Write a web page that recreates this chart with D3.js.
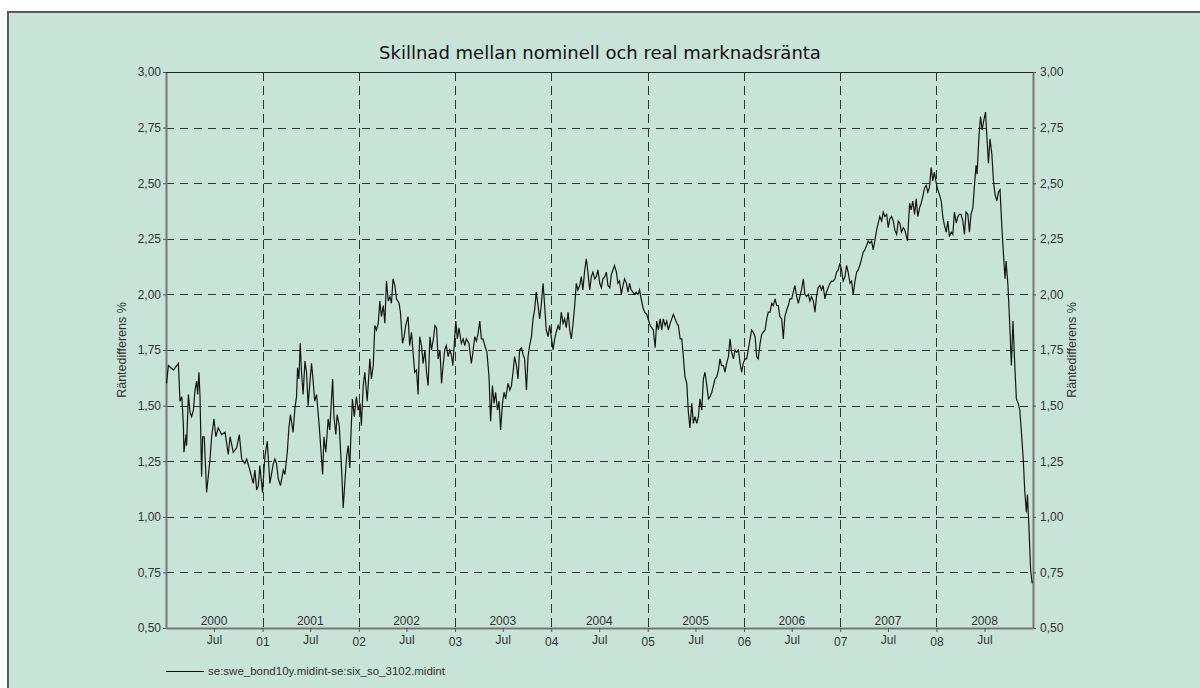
<!DOCTYPE html>
<html>
<head>
<meta charset="utf-8">
<script src="https://cdn.jsdelivr.net/npm/d3@7"></script>
<style>
  body { margin: 0; background: #fff; }
  svg { display: block; font-family: "Liberation Sans", Arial, sans-serif; }
</style>
</head>
<body>
<script>
// series: se:swe_bond10y.midint - se:six_so_3102.midint
var dates = [
  '2000-01-03','2000-01-10','2000-01-29','2000-02-17','2000-02-23','2000-03-01','2000-03-07','2000-03-09','2000-03-17','2000-03-19',
  '2000-03-26','2000-04-01','2000-04-07','2000-04-14','2000-04-20','2000-04-26','2000-04-30','2000-05-05','2000-05-09','2000-05-15',
  '2000-05-19','2000-05-25','2000-06-03','2000-06-16','2000-06-22','2000-07-01','2000-07-08','2000-07-17','2000-07-30','2000-08-12',
  '2000-08-24','2000-08-31','2000-09-12','2000-09-25','2000-10-05','2000-10-14','2000-10-26','2000-11-02','2000-11-14','2000-11-27',
  '2000-12-03','2000-12-10','2000-12-16','2000-12-22',
  '2001-01-01','2001-01-10','2001-01-19','2001-01-29','2001-02-11','2001-02-17','2001-02-23','2001-03-02','2001-03-10','2001-03-21',
  '2001-03-27','2001-04-05','2001-04-11','2001-04-17','2001-04-27','2001-05-04','2001-05-10','2001-05-14','2001-05-19','2001-05-24',
  '2001-05-29','2001-06-04','2001-06-11','2001-06-17','2001-06-23','2001-06-30','2001-07-06','2001-07-12','2001-07-18','2001-07-25',
  '2001-08-04','2001-08-17','2001-08-22','2001-08-29','2001-09-07','2001-09-13','2001-09-24','2001-09-29','2001-10-06','2001-10-11',
  '2001-10-19','2001-10-28','2001-11-03','2001-11-09','2001-11-16','2001-11-22','2001-11-28','2001-12-02','2001-12-08','2001-12-15',
  '2001-12-23','2001-12-30',
  '2002-01-06','2002-01-11','2002-01-18','2002-01-24','2002-02-02','2002-02-12','2002-02-18','2002-02-25','2002-03-03','2002-03-09',
  '2002-03-16','2002-03-22','2002-03-28','2002-04-04','2002-04-10','2002-04-16','2002-04-23','2002-04-29','2002-05-05','2002-05-11',
  '2002-05-18','2002-05-24','2002-06-03','2002-06-08','2002-06-16','2002-06-22','2002-06-28','2002-07-07','2002-07-13','2002-07-20',
  '2002-07-26','2002-08-01','2002-08-08','2002-08-14','2002-08-20','2002-08-27','2002-09-02','2002-09-09','2002-09-15','2002-09-21',
  '2002-09-28','2002-10-04','2002-10-11','2002-10-17','2002-10-23','2002-10-29','2002-11-05','2002-11-11','2002-11-17','2002-11-23',
  '2002-11-29','2002-12-06','2002-12-12','2002-12-18','2002-12-24',
  '2003-01-04','2003-01-10','2003-01-16','2003-01-25','2003-02-01','2003-02-07','2003-02-13','2003-02-23','2003-03-04','2003-03-10',
  '2003-03-17','2003-03-23','2003-03-29','2003-04-05','2003-04-11','2003-04-17','2003-04-24','2003-05-02','2003-05-10','2003-05-16',
  '2003-05-23','2003-05-29','2003-06-04','2003-06-11','2003-06-17','2003-06-23','2003-06-30','2003-07-06','2003-07-12','2003-07-21',
  '2003-07-28','2003-08-03','2003-08-09','2003-08-15','2003-08-22','2003-08-28','2003-09-03','2003-09-10','2003-09-16','2003-09-22',
  '2003-09-29','2003-10-05','2003-10-11','2003-10-18','2003-10-24','2003-10-30','2003-11-05','2003-11-12','2003-11-18','2003-11-24',
  '2003-12-01','2003-12-07','2003-12-13','2003-12-20','2003-12-26',
  '2004-01-01','2004-01-08','2004-01-14','2004-01-20','2004-01-27','2004-02-02','2004-02-08','2004-02-15','2004-02-21','2004-02-27',
  '2004-03-05','2004-03-11','2004-03-17','2004-03-23','2004-03-30','2004-04-05','2004-04-11','2004-04-18','2004-04-24','2004-04-30',
  '2004-05-07','2004-05-13','2004-05-19','2004-05-26','2004-06-01','2004-06-07','2004-06-14','2004-06-20','2004-06-26','2004-07-03',
  '2004-07-09','2004-07-15','2004-07-22','2004-07-28','2004-08-03','2004-08-10','2004-08-16','2004-08-22','2004-08-28','2004-09-04',
  '2004-09-10','2004-09-16','2004-09-23','2004-09-29','2004-10-05','2004-10-12','2004-10-18','2004-10-24','2004-10-30','2004-11-06',
  '2004-11-12','2004-11-18','2004-11-25','2004-12-01','2004-12-07','2004-12-14','2004-12-20','2004-12-28',
  '2005-01-10','2005-01-22','2005-01-29','2005-02-04','2005-02-10','2005-02-17','2005-02-23','2005-03-01','2005-03-08','2005-03-14',
  '2005-03-20','2005-03-27','2005-04-02','2005-04-08','2005-04-15','2005-04-21','2005-04-27','2005-05-04','2005-05-10','2005-05-16',
  '2005-05-22','2005-05-29','2005-06-04','2005-06-10','2005-06-17','2005-06-23','2005-06-29','2005-07-06','2005-07-12','2005-07-18',
  '2005-07-25','2005-07-31','2005-08-06','2005-08-13','2005-08-19','2005-08-25','2005-09-01','2005-09-07','2005-09-13','2005-09-20',
  '2005-09-26','2005-10-02','2005-10-08','2005-10-15','2005-10-21','2005-10-27','2005-11-03','2005-11-09','2005-11-15','2005-11-22',
  '2005-11-28','2005-12-04','2005-12-11','2005-12-17','2005-12-23','2005-12-29',
  '2006-01-05','2006-01-11','2006-01-17','2006-01-24','2006-01-30','2006-02-05','2006-02-12','2006-02-18','2006-02-24','2006-03-03',
  '2006-03-09','2006-03-15','2006-03-22','2006-03-28','2006-04-03','2006-04-10','2006-04-16','2006-04-22','2006-04-29','2006-05-05',
  '2006-05-11','2006-05-17','2006-05-24','2006-05-30','2006-06-05','2006-06-12','2006-06-18','2006-06-24','2006-07-01','2006-07-07',
  '2006-07-13','2006-07-20','2006-07-26','2006-08-01','2006-08-07','2006-08-14','2006-08-20','2006-08-26','2006-09-02','2006-09-08',
  '2006-09-14','2006-09-21','2006-09-27','2006-10-03','2006-10-09','2006-10-16','2006-10-22','2006-10-28','2006-11-04','2006-11-10',
  '2006-11-16','2006-11-23','2006-11-29','2006-12-05','2006-12-12','2006-12-18','2006-12-24','2006-12-31',
  '2007-01-06','2007-01-12','2007-01-19','2007-01-25','2007-01-31','2007-02-07','2007-02-13','2007-02-19','2007-02-26','2007-03-04',
  '2007-03-10','2007-03-16','2007-03-23','2007-03-29','2007-04-04','2007-04-11','2007-04-17','2007-04-23','2007-04-30','2007-05-06',
  '2007-05-12','2007-05-19','2007-05-25','2007-05-31','2007-06-07','2007-06-13','2007-06-19','2007-06-26','2007-07-02','2007-07-08',
  '2007-07-15','2007-07-21','2007-07-27','2007-08-03','2007-08-09','2007-08-15','2007-08-21','2007-08-28','2007-09-03','2007-09-09',
  '2007-09-13','2007-09-21','2007-09-27','2007-10-03','2007-10-10','2007-10-16','2007-10-22','2007-10-29','2007-11-04','2007-11-10',
  '2007-11-17','2007-11-23','2007-11-29','2007-12-05','2007-12-12','2007-12-18','2007-12-24','2007-12-31',
  '2008-01-06','2008-01-12','2008-01-19','2008-01-25','2008-01-31','2008-02-07','2008-02-13','2008-02-19','2008-02-26','2008-03-03',
  '2008-03-09','2008-03-16','2008-03-22','2008-03-28','2008-04-03','2008-04-10','2008-04-16','2008-04-22','2008-04-29','2008-05-05',
  '2008-05-11','2008-05-18','2008-05-24','2008-05-30','2008-06-03','2008-06-10','2008-06-16','2008-06-22','2008-06-28','2008-07-05',
  '2008-07-10','2008-07-16','2008-07-22','2008-07-29','2008-08-04','2008-08-10','2008-08-17','2008-08-23','2008-08-29','2008-09-05',
  '2008-09-11','2008-09-17','2008-09-21','2008-09-28','2008-10-05','2008-10-11','2008-10-17','2008-10-24','2008-10-30','2008-11-06',
  '2008-11-12','2008-11-18','2008-11-25','2008-12-01','2008-12-07','2008-12-11','2008-12-16','2008-12-23','2008-12-29'
]

var values = [
  1.60,1.68,1.66,1.69,1.52,1.54,1.41,1.29,1.37,1.32,
  1.55,1.47,1.45,1.48,1.57,1.61,1.55,1.65,1.54,1.18,
  1.36,1.36,1.11,1.26,1.36,1.44,1.36,1.40,1.37,1.38,
  1.28,1.36,1.29,1.31,1.37,1.26,1.24,1.26,1.21,1.15,
  1.21,1.12,1.14,1.23,
  1.11,1.27,1.34,1.15,1.24,1.26,1.24,1.17,1.14,1.21,
  1.19,1.29,1.40,1.46,1.38,1.49,1.54,1.67,1.62,1.78,
  1.65,1.55,1.70,1.65,1.50,1.61,1.69,1.61,1.52,1.55,
  1.41,1.19,1.36,1.29,1.44,1.39,1.62,1.45,1.37,1.46,
  1.41,1.21,1.04,1.15,1.27,1.32,1.22,1.36,1.53,1.45,
  1.54,1.48,
  1.51,1.41,1.59,1.65,1.52,1.71,1.62,1.68,1.86,1.84,
  1.87,1.97,1.90,1.95,1.87,2.06,1.97,1.99,1.96,2.07,
  2.04,1.98,1.96,1.92,1.78,1.81,1.86,1.90,1.77,1.83,
  1.74,1.65,1.66,1.55,1.81,1.77,1.69,1.75,1.65,1.59,
  1.81,1.75,1.80,1.86,1.85,1.71,1.75,1.60,1.68,1.75,
  1.77,1.72,1.75,1.73,1.68,
  1.88,1.80,1.85,1.78,1.80,1.77,1.80,1.78,1.69,1.74,
  1.81,1.79,1.82,1.88,1.80,1.80,1.77,1.74,1.63,1.43,
  1.59,1.51,1.56,1.48,1.52,1.39,1.51,1.56,1.53,1.60,
  1.57,1.59,1.65,1.72,1.68,1.62,1.75,1.76,1.73,1.71,
  1.57,1.72,1.77,1.81,1.89,1.93,2.01,1.95,1.89,1.95,
  2.05,1.95,1.84,1.81,1.86,
  1.81,1.75,1.80,1.83,1.86,1.84,1.92,1.87,1.89,1.85,
  1.92,1.84,1.80,1.86,1.95,2.05,2.02,2.04,2.08,2.02,
  2.11,2.16,2.10,2.02,2.08,2.10,2.07,2.08,2.11,2.05,
  2.03,2.07,2.08,2.10,2.04,2.03,2.09,2.11,2.13,2.10,
  2.05,2.06,2.00,2.04,2.07,2.05,2.01,2.05,2.02,2.01,
  2.00,2.01,2.00,2.02,1.98,1.94,1.92,1.91,
  1.86,1.84,1.76,1.88,1.84,1.89,1.84,1.89,1.86,1.88,
  1.84,1.87,1.89,1.91,1.89,1.87,1.86,1.80,1.80,1.72,
  1.63,1.60,1.47,1.40,1.51,1.42,1.45,1.42,1.45,1.53,
  1.48,1.62,1.65,1.59,1.53,1.54,1.56,1.59,1.62,1.63,
  1.66,1.71,1.68,1.68,1.65,1.69,1.72,1.80,1.74,1.71,
  1.75,1.74,1.75,1.69,1.65,1.69,
  1.71,1.71,1.75,1.80,1.84,1.83,1.81,1.72,1.71,1.78,
  1.82,1.83,1.84,1.89,1.92,1.92,1.96,1.95,1.98,1.95,
  1.95,1.90,1.89,1.80,1.90,1.93,1.95,1.98,1.98,2.01,
  2.04,1.99,1.96,1.99,2.02,2.07,2.00,1.99,2.00,1.97,
  1.99,1.97,1.92,1.99,2.03,2.04,2.02,2.04,1.98,2.01,
  2.03,2.05,2.06,2.06,2.07,2.10,2.11,2.14,
  2.11,2.06,2.08,2.13,2.10,2.05,2.06,2.00,2.06,2.10,
  2.11,2.13,2.16,2.19,2.20,2.22,2.24,2.23,2.24,2.20,
  2.24,2.29,2.32,2.35,2.33,2.37,2.35,2.36,2.30,2.34,
  2.35,2.33,2.29,2.27,2.33,2.32,2.28,2.30,2.29,2.26,
  2.24,2.41,2.38,2.42,2.36,2.43,2.35,2.39,2.41,2.44,
  2.48,2.49,2.46,2.48,2.57,2.51,2.55,2.50,
  2.47,2.45,2.42,2.35,2.31,2.28,2.33,2.26,2.28,2.27,
  2.37,2.32,2.35,2.36,2.36,2.33,2.27,2.37,2.36,2.28,
  2.36,2.39,2.49,2.58,2.54,2.71,2.80,2.74,2.78,2.82,
  2.71,2.59,2.70,2.63,2.51,2.45,2.42,2.46,2.47,2.30,
  2.18,2.07,2.15,2.04,1.86,1.68,1.88,1.68,1.53,1.51,
  1.48,1.38,1.26,1.11,1.02,1.10,0.97,0.76,0.70
]

var yTicks = [0.50, 0.75, 1.00, 1.25, 1.50, 1.75, 2.00, 2.25, 2.50, 2.75, 3.00]
var years = [2000, 2001, 2002, 2003, 2004, 2005, 2006, 2007, 2008]

var title = 'Skillnad mellan nominell och real marknadsränta'
var yLabel = 'Räntedifferens %'
var seriesName = 'se:swe_bond10y.midint-se:six_so_3102.midint'

var W = 1200, H = 688
var margin = { top: 72, right: 167, bottom: 60, left: 166 }
var width = W - margin.left - margin.right,
  height = H - margin.top - margin.bottom

var parse = d3.timeParse('%Y-%m-%d')
var data = dates.map(function (d, i) {
  return { date: parse(d), value: values[i] }
})

var x = d3.scaleTime()
  .domain([new Date(2000, 0, 1), new Date(2009, 0, 1)])
  .range([0, width])
var y = d3.scaleLinear().domain([0.5, 3]).range([height, 0])

var svg = d3.select('body').append('svg')
  .attr('width', W)
  .attr('height', H)

// panel background
svg.append('rect')
  .attr('x', 8).attr('y', 12)
  .attr('width', W).attr('height', H)
  .attr('fill', '#c8e3d8')
  .attr('stroke', '#5a5a5a')
  .attr('stroke-width', 2)

svg.append('text')
  .attr('x', 600).attr('y', 59)
  .attr('text-anchor', 'middle')
  .attr('font-family', '"DejaVu Sans", sans-serif')
  .attr('font-size', 18)
  .attr('fill', '#111')
  .text(title)

var g = svg.append('g')
  .attr('transform', 'translate(' + margin.left + ',' + margin.top + ')')

// grid
var fmt = function (d) { return d3.format('.2f')(d).replace('.', ',') }

g.append('g').selectAll('line')
  .data(yTicks.filter(function (d) { return d > 0.5 && d < 3 }))
  .enter().append('line')
  .attr('x1', 0).attr('x2', width)
  .attr('y1', function (d) { return Math.round(y(d)) + 0.5 })
  .attr('y2', function (d) { return Math.round(y(d)) + 0.5 })
  .attr('stroke', '#333')
  .attr('stroke-dasharray', '8,6')

g.append('g').selectAll('line')
  .data(years.slice(1))
  .enter().append('line')
  .attr('x1', function (d) { return Math.round(x(new Date(d, 0, 1))) + 0.5 })
  .attr('x2', function (d) { return Math.round(x(new Date(d, 0, 1))) + 0.5 })
  .attr('y1', 0).attr('y2', height)
  .attr('stroke', '#333')
  .attr('stroke-dasharray', '9,5')

// y axes
var yl = g.append('g')
  .call(d3.axisLeft(y).tickValues(yTicks).tickFormat(fmt).tickSize(3).tickPadding(2).tickSizeOuter(0))
var yr = g.append('g')
  .attr('transform', 'translate(' + width + ',0)')
  .call(d3.axisRight(y).tickValues(yTicks).tickFormat(fmt).tickSize(3).tickPadding(4).tickSizeOuter(0))

;[yl, yr].forEach(function (a) {
  a.select('.domain').attr('stroke', '#777').attr('stroke-width', 2)
  a.selectAll('.tick line').attr('stroke', '#555')
  a.selectAll('.tick text').attr('fill', '#333').attr('font-size', 12)
})

// x axis
var xTicks = []
years.forEach(function (yr) {
  if (yr > 2000) xTicks.push(new Date(yr, 0, 1))
  xTicks.push(new Date(yr, 6, 1))
})
var xa = g.append('g')
  .attr('transform', 'translate(0,' + height + ')')
  .call(d3.axisBottom(x).tickValues(xTicks).tickSize(4).tickSizeOuter(0)
    .tickFormat(function (d) { return d.getMonth() === 6 ? 'Jul' : d3.timeFormat('%y')(d) }))
xa.select('.domain').attr('stroke', '#777').attr('stroke-width', 2)
xa.selectAll('.tick line').attr('stroke', '#555')
xa.selectAll('.tick text')
  .attr('fill', '#333')
  .attr('font-size', 12)
  .attr('dy', function (d) { return d.getMonth() === 6 ? '0.75em' : '0.95em' })

g.append('g').selectAll('text')
  .data(years)
  .enter().append('text')
  .attr('x', function (d) { return x(new Date(d, 6, 1)) })
  .attr('y', height - 3)
  .attr('text-anchor', 'middle')
  .attr('font-size', 12)
  .attr('fill', '#333')
  .text(function (d) { return d })

// top frame
g.append('line')
  .attr('x1', 0).attr('x2', width)
  .attr('y1', 0.5).attr('y2', 0.5)
  .attr('stroke', '#222')

// axis titles
;[126, 1076].forEach(function (cx) {
  svg.append('text')
    .attr('transform', 'translate(' + cx + ',' + (margin.top + height / 2) + ') rotate(-90)')
    .attr('text-anchor', 'middle')
    .attr('font-size', 12.5)
    .attr('fill', '#333')
    .text(yLabel)
})

// the series
var line = d3.line()
  .x(function (d) { return x(d.date) })
  .y(function (d) { return y(d.value) })

g.append('path')
  .datum(data)
  .attr('fill', 'none')
  .attr('stroke', '#161616')
  .attr('stroke-width', 1.2)
  .attr('d', line)

// legend
svg.append('line')
  .attr('x1', 166).attr('x2', 204)
  .attr('y1', 671.5).attr('y2', 671.5)
  .attr('stroke', '#111')
svg.append('text')
  .attr('x', 208).attr('y', 675)
  .attr('font-size', 11.5)
  .attr('fill', '#333')
  .text(seriesName)
</script>
</body>
</html>
